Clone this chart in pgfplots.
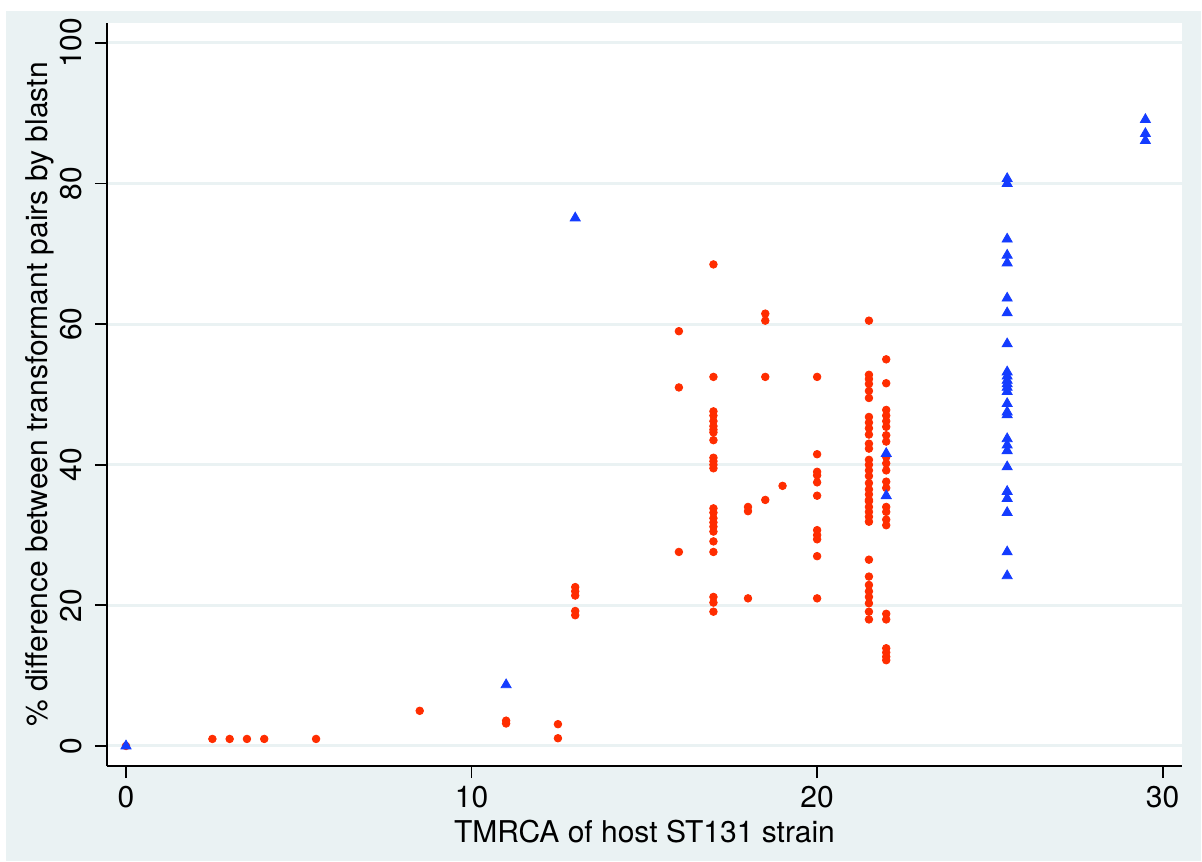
\documentclass[border=0pt]{standalone}
\usepackage{fontspec}
\setmainfont{TeX Gyre Heros}
\usepackage{graphicx}
\usepackage{pgfplots}
\pgfplotsset{compat=1.18}
\definecolor{bggray}{RGB}{234,242,243}
\definecolor{ptred}{RGB}{255,45,0}
\definecolor{ptblue}{RGB}{20,60,255}
\newcommand{\lblfont}{\fontsize{15}{18}\selectfont}

\begin{document}
\begin{tikzpicture}[x=1pt,y=1pt]
% page and outer graph region
\fill[white] (0,0) rectangle (601,-430.5);
\fill[bggray] (3,-5.5) rectangle (600.5,-430.5);
\begin{axis}[
  at={(53.5pt,-383pt)}, anchor=south west,
  width=537.5pt, height=371.5pt, scale only axis,
  xmin=-0.55, xmax=30.56, ymin=-2.85, ymax=102.84,
  axis background/.style={fill=white},
  axis x line*=bottom, axis y line*=left,
  axis line style={black, line width=1pt},
  xtick={0,10,20,30}, ytick={0,20,40,60,80,100},
  tick align=outside, major tick length=6pt,
  tick style={black, line width=0.9pt},
  ymajorgrids, grid style={bggray, line width=1.5pt},
  /pgf/number format/assume math mode=true,
  xticklabel style={font=\lblfont, anchor=north, inner sep=0pt},
  xticklabel shift=4pt,
  yticklabel={\rotatebox{90}{\pgfmathprintnumber{\tick}}},
  yticklabel style={font=\lblfont, anchor=east, inner sep=0pt},
  yticklabel shift=6.5pt,
  xlabel={TMRCA of host ST131 strain},
  ylabel={\% difference between transformant pairs by blastn},
  every axis x label/.style={at={(axis description cs:0.5,0)}, yshift=-38pt, anchor=base, font=\lblfont},
  every axis y label/.style={at={(axis description cs:0,0.5)}, xshift=-29.5pt, rotate=90, anchor=base, font=\lblfont},
]
% transformant pairs, circles
\addplot[only marks, mark=*, mark size=1.9pt, color=ptred, mark options={fill=ptred, draw=ptred}] coordinates {
(0,0)
(2.5,1) (3,1) (3.5,1) (4,1) (5.5,1)
(8.5,5)
(11,3.6) (11,3.2)
(12.5,3.1) (12.5,1.1)
(13,22.6) (13,22) (13,21.4) (13,19.2) (13,18.6)
(16,59) (16,51) (16,27.6)
(17,68.5) (17,52.5) (17,47.6) (17,47) (17,46.2) (17,45.5) (17,45) (17,44.6) (17,43.5)
(17,41) (17,40.5) (17,40) (17,39.5) (17,33.8) (17,33.2) (17,32.4) (17,31.8) (17,31.2)
(17,30.5) (17,29.1) (17,27.6) (17,21.2) (17,20.4) (17,19.1)
(18,34.0) (18,33.4) (18,21.0)
(18.5,61.5) (18.5,60.5) (18.5,52.5) (18.5,35.0)
(19,37.0)
(20,52.5) (20,41.5) (20,39.0) (20,38.5) (20,37.5) (20,35.6) (20,30.7) (20,30.0) (20,29.4) (20,27.0) (20,21.0)
(21.5,60.5) (21.5,52.8) (21.5,52.2) (21.5,51.5) (21.5,50.5) (21.5,49.5) (21.5,46.8) (21.5,46.0)
(21.5,45.2) (21.5,44.3) (21.5,43.0) (21.5,42.3) (21.5,40.7) (21.5,40.0) (21.5,39.2) (21.5,38.4)
(21.5,37.4) (21.5,36.5) (21.5,35.8) (21.5,35.0) (21.5,34.8) (21.5,34.0) (21.5,33.3) (21.5,32.6)
(21.5,31.9) (21.5,26.5) (21.5,24.1) (21.5,22.9) (21.5,22.0) (21.5,21.2) (21.5,20.3) (21.5,19.1) (21.5,18.0)
(22,55.0) (22,51.6) (22,47.8) (22,47.0) (22,46.2) (22,45.4) (22,44.2) (22,43.3) (22,41.1) (22,40.2)
(22,39.2) (22,37.6) (22,36.7) (22,34.0) (22,33.3) (22,32.2) (22,31.4) (22,18.8) (22,18.0)
(22,13.9) (22,13.3) (22,12.7) (22,12.2)
};
% transformant pairs, triangles
\addplot[only marks, mark=triangle*, mark size=2.9pt, color=ptblue, mark options={fill=ptblue, draw=ptblue}] coordinates {
(0,0) (11,8.7) (13,75.1) (22,41.6) (22,35.6)
(25.5,80.7) (25.5,80.0) (25.5,72.1) (25.5,69.8) (25.5,68.7) (25.5,63.7) (25.5,61.6) (25.5,57.2)
(25.5,53.2) (25.5,52.6) (25.5,52.0) (25.5,51.5) (25.5,51.0) (25.5,50.4) (25.5,48.7) (25.5,47.5)
(25.5,47.1) (25.5,43.7) (25.5,42.8) (25.5,42.0) (25.5,39.7) (25.5,36.2) (25.5,35.2) (25.5,33.2)
(25.5,27.6) (25.5,24.2)
(29.5,89.1) (29.5,87.1) (29.5,86.1)
};
\end{axis}
\end{tikzpicture}
\end{document}
